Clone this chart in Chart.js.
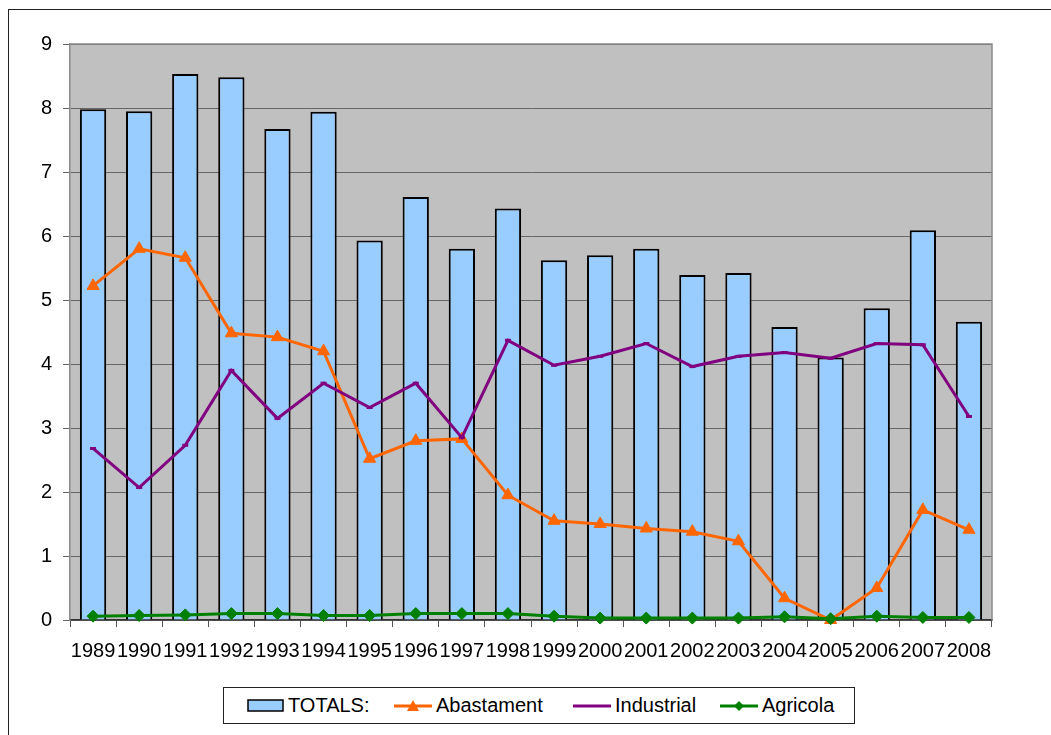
<!DOCTYPE html>
<html>
<head>
<meta charset="utf-8">
<script src="https://cdn.jsdelivr.net/npm/chart.js@4.4.0/dist/chart.umd.min.js"></script>
<style>
  body { margin: 0; background: #fff; font-family: "Liberation Sans", Arial, sans-serif; }
  #frame { position: absolute; left: 8px; top: 9px; width: 1100px; height: 800px; border: 1px solid #222; }
  #wrap { position: absolute; left: 8px; top: 9px; width: 1043px; height: 670px; }
  #legend { position: absolute; left: 223px; top: 687px; width: 630px; height: 35px; border: 1px solid #222; background: #fff; }
  .item { position: absolute; top: 0; height: 35px; display: flex; align-items: center; font-size: 20px; color: #000; white-space: nowrap; }
  .item svg { margin-right: 4px; }
</style>
</head>
<body>
<div id="frame"></div>
<div id="wrap"><canvas id="myChart"></canvas></div>
<div id="legend">
  <div class="item" style="left:23px">
    <svg width="37" height="13"><rect x="1" y="1" width="35" height="11" fill="#99ccff" stroke="#000" stroke-width="1.5"/></svg>TOTALS:
  </div>
  <div class="item" style="left:170px">
    <svg width="38" height="14"><line x1="0" y1="7" x2="38" y2="7" stroke="#ff6600" stroke-width="3"/><polygon points="19,1 25,12 13,12" fill="#ff6600"/></svg>Abastament
  </div>
  <div class="item" style="left:349px">
    <svg width="38" height="14"><line x1="0" y1="7" x2="38" y2="7" stroke="#800080" stroke-width="3"/></svg>Industrial
  </div>
  <div class="item" style="left:496px">
    <svg width="38" height="14"><line x1="0" y1="7" x2="38" y2="7" stroke="#008000" stroke-width="3"/><polygon points="19,2 24,7 19,12 14,7" fill="#008000"/></svg>Agricola
  </div>
</div>
<script>
let years = ['1989', '1990', '1991', '1992', '1993', '1994', '1995', '1996', '1997', '1998',
  '1999', '2000', '2001', '2002', '2003', '2004', '2005', '2006', '2007', '2008'];
let totals = [7.98, 7.95, 8.53, 8.48, 7.67, 7.94, 5.93, 6.61, 5.80, 6.43,
  5.62, 5.70, 5.80, 5.39, 5.42, 4.58, 4.10, 4.87, 6.09, 4.66];
let abastament = [5.22, 5.80, 5.66, 4.48, 4.42, 4.20, 2.52, 2.80, 2.83, 1.95,
  1.55, 1.50, 1.43, 1.38, 1.23, 0.34, 0.00, 0.50, 1.72, 1.41];
let industrial = [2.68, 2.07, 2.73, 3.90, 3.15, 3.70, 3.32, 3.70, 2.85, 4.37,
  3.98, 4.12, 4.32, 3.96, 4.12, 4.18, 4.09, 4.32, 4.30, 3.18];
let agricola = [0.06, 0.07, 0.08, 0.10, 0.10, 0.07, 0.07, 0.10, 0.10, 0.10,
  0.06, 0.03, 0.03, 0.03, 0.03, 0.05, 0.02, 0.06, 0.04, 0.04];
let yTicks = [0, 1, 2, 3, 4, 5, 6, 7, 8, 9];

// grey plot area like the old Excel charts
let plotArea = {
  id: 'plotArea',
  beforeDraw: (chart) => {
    let { ctx, chartArea: a } = chart;
    ctx.save();
    ctx.fillStyle = '#c0c0c0';
    ctx.fillRect(a.left, a.top, a.right - a.left, a.bottom - a.top);
    ctx.restore();
  },
  beforeDatasetsDraw: (chart) => {
    let { ctx, chartArea: a } = chart;
    ctx.save();
    ctx.strokeStyle = '#8a8a8a';
    ctx.lineWidth = 1.5;
    ctx.beginPath();
    ctx.moveTo(a.left, a.top);
    ctx.lineTo(a.right, a.top);
    ctx.lineTo(a.right, a.bottom);
    ctx.stroke();
    ctx.restore();
  }
};

let ctx = document.getElementById('myChart');

let myChart = new Chart(ctx, {
  type: 'bar',
  data: {
    labels: years,
    datasets: [{
      type: 'bar',
      label: 'TOTALS:',
      data: totals,
      backgroundColor: '#99ccff',
      borderColor: '#000',
      borderWidth: 2,
      barPercentage: 0.57,
      categoryPercentage: 1,
      order: 4
    }, {
      type: 'line',
      label: 'Abastament',
      data: abastament,
      borderColor: '#ff6600',
      backgroundColor: '#ff6600',
      borderWidth: 3,
      pointStyle: 'triangle',
      pointRadius: 7,
      pointBorderWidth: 1,
      tension: 0,
      clip: false,
      order: 3
    }, {
      type: 'line',
      label: 'Industrial',
      data: industrial,
      borderColor: '#800080',
      backgroundColor: '#800080',
      borderWidth: 3,
      pointStyle: 'line',
      pointRadius: 3,
      pointBorderWidth: 3,
      tension: 0,
      clip: false,
      order: 2
    }, {
      type: 'line',
      label: 'Agricola',
      data: agricola,
      borderColor: '#008000',
      backgroundColor: '#008000',
      borderWidth: 3,
      pointStyle: 'rectRot',
      pointRadius: 6,
      pointBorderWidth: 1,
      tension: 0,
      clip: false,
      order: 1
    }]
  },
  options: {
    responsive: true,
    maintainAspectRatio: false,
    animation: false,
    layout: { padding: { left: 0, right: 59, top: 35, bottom: 0 } },
    plugins: {
      legend: { display: false },
      tooltip: { enabled: false }
    },
    scales: {
      x: {
        offset: true,
        grid: { offset: true, drawOnChartArea: false, drawTicks: true, tickLength: 7, color: '#555', lineWidth: 1 },
        border: { color: '#333', width: 1.5 },
        ticks: {
          color: '#000', font: { size: 20, family: 'Liberation Sans' },
          maxRotation: 0, autoSkip: false, padding: 12
        },
        afterFit: (scale) => { scale.height = 59; }
      },
      y: {
        min: 0,
        max: 9,
        afterBuildTicks: (scale) => { scale.ticks = yTicks.map(v => ({ value: v })); },
        grid: { color: '#666', lineWidth: 1, tickLength: 7, tickColor: '#666' },
        border: { color: '#8a8a8a', width: 1.5 },
        ticks: { color: '#000', font: { size: 20, family: 'Liberation Sans' }, padding: 11 },
        afterFit: (scale) => { scale.width = 62; }
      }
    }
  },
  plugins: [plotArea]
});
</script>
</body>
</html>
